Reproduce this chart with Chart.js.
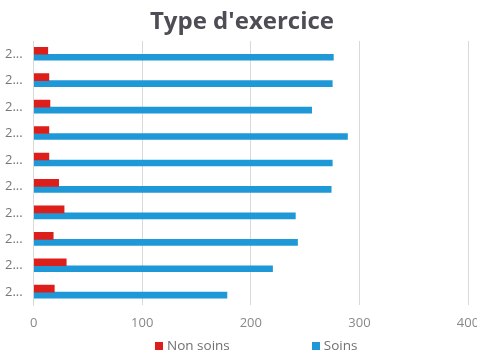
<!DOCTYPE html>
<html>
<head>
<meta charset="utf-8">
<script src="https://cdn.jsdelivr.net/npm/chart.js@4"></script>
<style>
    body { margin: 0; background: #fff; }
    #wrap { position: relative; width: 477px; height: 356px; overflow: hidden; }
    #title {
        position: absolute; left: 0; top: 5px; width: 484px; text-align: center;
        font-family: 'Open Sans', sans-serif; font-size: 24px; font-weight: bold;
        color: #4d4d55; line-height: 30px; white-space: nowrap;
    }
    #legend {
        position: absolute; left: 155px; top: 337px;
        display: flex; gap: 82px;
        font-family: 'Open Sans', sans-serif; font-size: 13.5px; color: #707070;
        line-height: 16px; white-space: nowrap;
    }
    #legend span.box { display: inline-block; width: 8px; height: 8px; margin-right: 4px; }
</style>
</head>
<body>
<div id="wrap">
    <canvas id="exerciceChart" width="477" height="356"></canvas>
    <div id="title">Type d'exercice</div>
    <div id="legend"></div>
</div>
<script>
const categories = ['2...', '2...', '2...', '2...', '2...', '2...', '2...', '2...', '2...', '2...'];
const nonSoins = [13, 14, 15, 14, 14, 23, 28, 18, 30, 19];
const soins = [276, 275, 256, 289, 275, 274, 241, 243, 220, 178];
const xTicks = [0, 100, 200, 300, 400];

const ctx = document.getElementById('exerciceChart').getContext('2d');

const chart = new Chart(ctx, {
    type: 'bar',
    data: {
        labels: categories,
        datasets: [{
            label: 'Non soins',
            data: nonSoins,
            backgroundColor: '#DD1F1B',
            barThickness: 7
        }, {
            label: 'Soins',
            data: soins,
            backgroundColor: '#1E98D6',
            barThickness: 6
        }]
    },
    options: {
        indexAxis: 'y',
        responsive: false,
        animation: false,
        layout: { padding: { left: 2, right: 9, top: 41, bottom: 15 } },
        plugins: {
            legend: { display: false },
            tooltip: { enabled: false }
        },
        scales: {
            x: {
                min: 0,
                max: 400,
                afterBuildTicks: axis => { axis.ticks = xTicks.map(v => ({ value: v })); },
                // let the last tick label run to the edge, like the original
                afterFit: axis => { axis.paddingRight = 0; axis.paddingLeft = 0; },
                grid: { color: '#d9d9d9', drawTicks: false },
                border: { display: false },
                ticks: {
                    color: '#888',
                    padding: 10,
                    font: { family: 'Open Sans', size: 13 }
                }
            },
            y: {
                grid: { display: false },
                border: { color: '#d9d9d9' },
                ticks: {
                    color: '#777',
                    padding: 3,
                    font: { family: 'Open Sans', size: 13 }
                }
            }
        }
    }
});

// legend below the chart, spaced like the original
const legendEl = document.getElementById('legend');
chart.data.datasets.forEach(ds => {
    const item = document.createElement('div');
    item.innerHTML = '<span class="box" style="background:' + ds.backgroundColor + '"></span>' + ds.label;
    legendEl.appendChild(item);
});
</script>
</body>
</html>
